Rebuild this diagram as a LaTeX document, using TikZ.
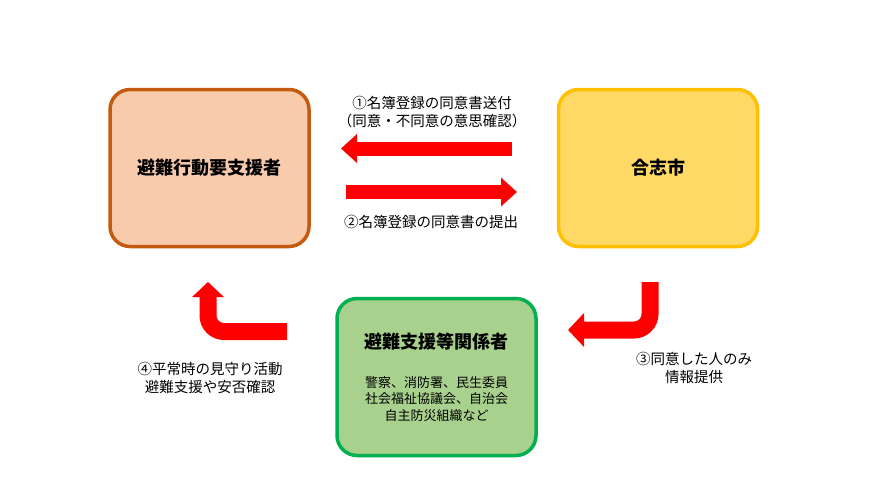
\documentclass[tikz,border=0pt]{standalone}
\usepackage{fontspec}
\setmainfont{Noto Sans CJK JP}
\usetikzlibrary{arrows.meta, positioning}
\definecolor{pinkfill}{RGB}{248,203,173}
\definecolor{pinkline}{RGB}{197,90,17}
\definecolor{yelfill}{RGB}{255,217,102}
\definecolor{yelline}{RGB}{255,192,0}
\definecolor{grnfill}{RGB}{169,209,142}
\definecolor{grnline}{RGB}{0,176,80}
\definecolor{redarrow}{RGB}{255,0,0}
\tikzset{
  box/.style={
    rectangle, rounded corners=20pt, minimum width=199pt,
    minimum height=157pt, align=center, inner sep=0pt,
    line width=3.5pt, font=\fontsize{18}{22}\selectfont\bfseries
  },
  pnk/.style={box, fill=pinkfill, draw=pinkline},
  ylw/.style={box, fill=yelfill,  draw=yelline},
  grn/.style={box, fill=grnfill,  draw=grnline},
  bigarr/.style={draw=redarrow, line width=14pt,
    -{Triangle[width=28pt, length=16pt]}},
  bentarr/.style={draw=redarrow, line width=17pt, rounded corners=16pt,
    -{Triangle[width=33pt, length=16pt]}},
  lbl/.style={font=\fontsize{14.5}{18}\selectfont, align=center}
}
\newcommand{\ttlfont}{\fontsize{18}{22}\selectfont\bfseries}

\begin{document}
\begin{tikzpicture}[x=1pt, y=-1pt]
  \useasboundingbox (0,0) rectangle (896,503);

  \node[pnk] (youshien) at (209.5,168) {避難行動要支援者};
  \node[ylw, right=246pt of youshien] (koshi) {合志市};
  \node[grn, font=\fontsize{13}{16.5}\selectfont] (kankei) at (436.5,377)
    {{\ttlfont 避難支援等関係者}\\[22.5pt]
     警察、消防署、民生委員\\社会福祉協議会、自治会\\自主防災組織など};

  % straight arrows
  \coordinate (sofu1) at (512,148.5);
  \coordinate (sofu2) at (341,148.5);
  \coordinate (teishutsu1) at (346,192);
  \coordinate (teishutsu2) at (517,192);
  \draw[bigarr] (sofu1) -- (sofu2);
  \draw[bigarr] (teishutsu1) -- (teishutsu2);

  % bent arrows
  \coordinate (teikyo1) at (650,282);
  \coordinate (teikyo2) at (568,330);
  \coordinate (mimamori1) at (287,331.5);
  \coordinate (mimamori2) at (208,282);
  \draw[bentarr] (teikyo1) |- (teikyo2);
  \draw[bentarr, -{Triangle[width=31pt, length=15pt]}] (mimamori1) -| (mimamori2);

  \node[lbl] (lblsofu) at (432,112.5) {①名簿登録の同意書送付\\（同意・不同意の意思確認）};
  \node[lbl] (lblteishutsu) at (431,222) {②名簿登録の同意書の提出};
  \node[lbl] (lblteikyo) at (694,367.5) {③同意した人のみ\\情報提供};
  \node[lbl] (lblmimamori) at (210,378) {④平常時の見守り活動\\避難支援や安否確認};
\end{tikzpicture}
\end{document}
